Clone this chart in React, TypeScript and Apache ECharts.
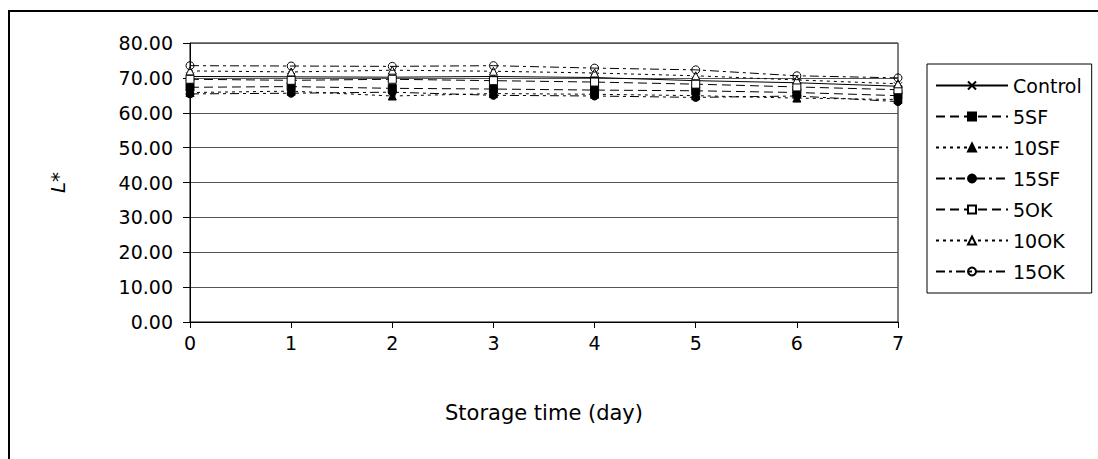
import React, { useEffect, useRef } from "react";
import * as echarts from "echarts";

const days = ["0", "1", "2", "3", "4", "5", "6", "7"];
const control = [70.4, 70.3, 70.2, 70.4, 70.1, 69.2, 68.6, 67.6];
const sf5 = [67.3, 67.5, 67.0, 66.8, 66.5, 66.3, 65.8, 64.9];
const sf10 = [65.8, 66.2, 64.8, 65.5, 65.3, 64.9, 64.2, 63.8];
const sf15 = [65.4, 65.6, 65.9, 65.0, 64.8, 64.4, 64.8, 63.2];
const ok5 = [69.6, 69.3, 69.6, 69.2, 68.8, 68.2, 67.4, 66.6];
const ok10 = [72.0, 71.7, 72.2, 71.9, 71.4, 70.6, 69.4, 68.3];
const ok15 = [73.5, 73.4, 73.3, 73.5, 72.8, 72.3, 70.6, 70.0];

const FONT = "DejaVu Sans";

export default function App() {
  const ref = useRef<HTMLDivElement>(null);
  useEffect(() => {
    if (!ref.current) return;
    const chart = echarts.init(ref.current, null, { renderer: "svg" });
    const mk = (
      name: string,
      data: number[],
      symbol: string,
      fill: string,
      dash: any
    ) => ({
      name,
      type: "line",
      data,
      symbol,
      symbolSize: 8,
      showSymbol: true,
      lineStyle: { color: "#000", width: 1, type: dash },
      itemStyle: { color: fill, borderColor: "#000", borderWidth: 1 },
      emphasis: { disabled: true },
    });
    const dashed = [9, 5];
    const dotted = [3, 4];
    const dashDot = [9, 4, 3, 4];
    chart.setOption({
      animation: false,
      textStyle: { fontFamily: FONT, color: "#000" },
      graphic: [
        {
          type: "rect",
          silent: true,
          shape: { x: 9, y: 11, width: 1200, height: 600 },
          style: { fill: "none", stroke: "#000", lineWidth: 2 },
        },
      ],
      grid: {
        left: 190,
        top: 43,
        width: 708,
        height: 279,
        show: true,
        borderColor: "#000",
        borderWidth: 1,
        backgroundColor: "transparent",
      },
      legend: {
        orient: "vertical",
        left: 927,
        top: 64,
        itemWidth: 72,
        itemHeight: 10,
        itemGap: 12,
        padding: [12, 10, 12, 8],
        borderColor: "#000",
        borderWidth: 1,
        textStyle: { fontFamily: FONT, fontSize: 19, color: "#000" },
        data: ["Control", "5SF", "10SF", "15SF", "5OK", "10OK", "15OK"],
      },
      xAxis: {
        type: "category",
        data: days,
        boundaryGap: false,
        name: "Storage time (day)",
        nameLocation: "middle",
        nameGap: 80,
        nameTextStyle: { fontFamily: FONT, fontSize: 21, color: "#000" },
        axisLine: { lineStyle: { color: "#000", width: 1 } },
        axisTick: { show: true, length: 6, lineStyle: { color: "#000" } },
        axisLabel: { fontFamily: FONT, fontSize: 19, color: "#000", margin: 11 },
        splitLine: { show: false },
      },
      yAxis: {
        type: "value",
        min: 0,
        max: 80,
        interval: 10,
        name: "L*",
        nameLocation: "middle",
        nameRotate: 90,
        nameGap: 122,
        nameTextStyle: {
          fontFamily: FONT,
          fontSize: 20,
          fontStyle: "italic",
          color: "#000",
        },
        axisLine: { show: true, lineStyle: { color: "#000", width: 1 } },
        axisTick: { show: true, length: 7, lineStyle: { color: "#000" } },
        axisLabel: {
          fontFamily: FONT,
          fontSize: 19,
          color: "#000",
          margin: 17,
          formatter: (v: number) => v.toFixed(2),
        },
        splitLine: { show: true, lineStyle: { color: "#555", width: 1 } },
      },
      series: [
        mk("Control", control, "path://M0,0L10,10M10,0L0,10", "transparent", "solid"),
        mk("5SF", sf5, "rect", "#000", dashed),
        mk("10SF", sf10, "triangle", "#000", dotted),
        mk("15SF", sf15, "circle", "#000", dashDot),
        mk("5OK", ok5, "rect", "#fff", dashed),
        mk("10OK", ok10, "triangle", "#fff", dotted),
        mk("15OK", ok15, "circle", "transparent", dashDot),
      ],
    });
    return () => chart.dispose();
  }, []);
  return (
    <div
      ref={ref}
      style={{
        position: "fixed",
        left: 0,
        top: 0,
        width: 1098,
        height: 459,
        background: "#fff",
      }}
    />
  );
}
